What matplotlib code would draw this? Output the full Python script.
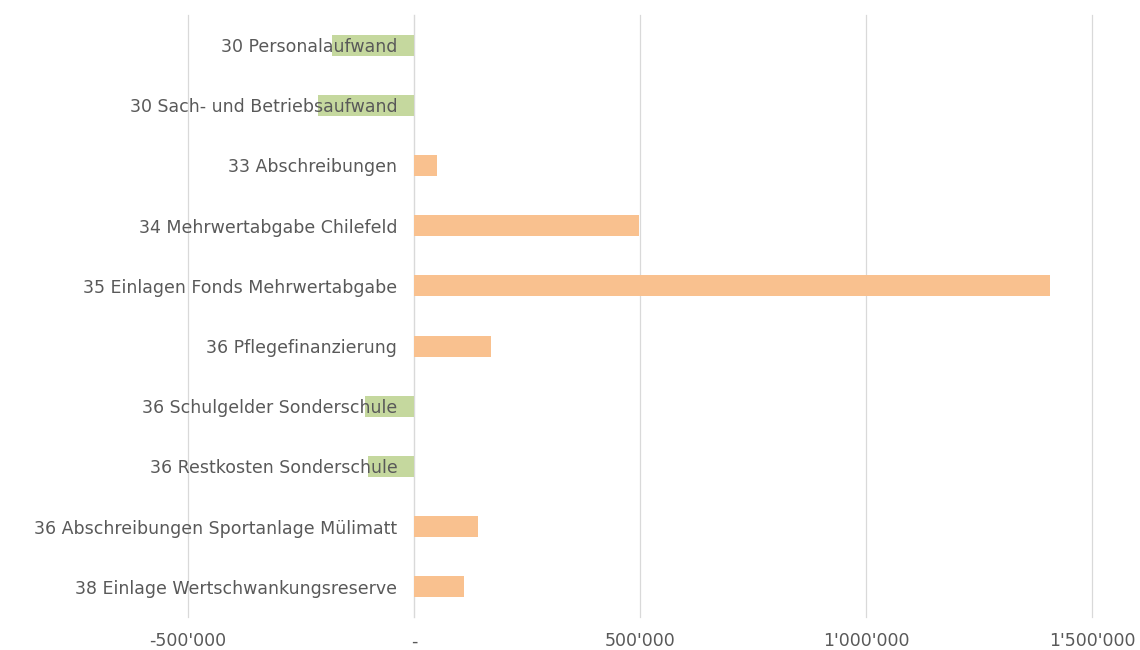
import numpy as np
import matplotlib
matplotlib.use("Agg")
import matplotlib.pyplot as plt
from matplotlib.ticker import FuncFormatter

categories = [
    "30 Personalaufwand",
    "30 Sach- und Betriebsaufwand",
    "33 Abschreibungen",
    "34 Mehrwertabgabe Chilefeld",
    "35 Einlagen Fonds Mehrwertabgabe",
    "36 Pflegefinanzierung",
    "36 Schulgelder Sonderschule",
    "36 Restkosten Sonderschule",
    "36 Abschreibungen Sportanlage Mülimatt",
    "38 Einlage Wertschwankungsreserve",
]
values = [-181000, -212000, 51000, 498000, 1407000, 170000, -108000, -102000, 142000, 110000]
xticks = [-500000, 0, 500000, 1000000, 1500000]

GREEN = "#C5D89E"
ORANGE = "#F9C18F"
TEXT = "#595959"
GRID = "#D9D9D9"

fig = plt.figure(figsize=(11.4, 6.5), dpi=100)
ax = fig.add_axes([0.1649, 0.0508, 0.7930, 0.9262])

y = np.arange(len(categories))
colors = [GREEN if v < 0 else ORANGE for v in values]
ax.barh(y, values, height=0.35, color=colors, zorder=1)

# gridlines drawn by hand so they sit below the bars while labels stay on top
for t in xticks:
    if t != 0:
        ax.axvline(t, color=GRID, linewidth=0.9, zorder=0, clip_on=False)

ax.set_ylim(len(categories) - 0.5, -0.5)
ax.set_xlim(-500000, 1500000)
ax.set_xticks(xticks)

def fmt(v, pos):
    if v == 0:
        return "-"
    return f"{int(v):,}".replace(",", "'")

ax.xaxis.set_major_formatter(FuncFormatter(fmt))
ax.set_yticks(y)
ax.set_yticklabels(categories)

for s in ["top", "right", "bottom"]:
    ax.spines[s].set_visible(False)
ax.spines["left"].set_position(("data", 0))
ax.spines["left"].set_color(GRID)
ax.spines["left"].set_linewidth(1.0)
ax.spines["left"].set_zorder(0.5)

ax.tick_params(axis="y", length=0, pad=12, labelsize=12.5, labelcolor=TEXT)
ax.tick_params(axis="x", length=0, pad=11, labelsize=12.5, labelcolor=TEXT)

fig.savefig("out.png", dpi=100)
